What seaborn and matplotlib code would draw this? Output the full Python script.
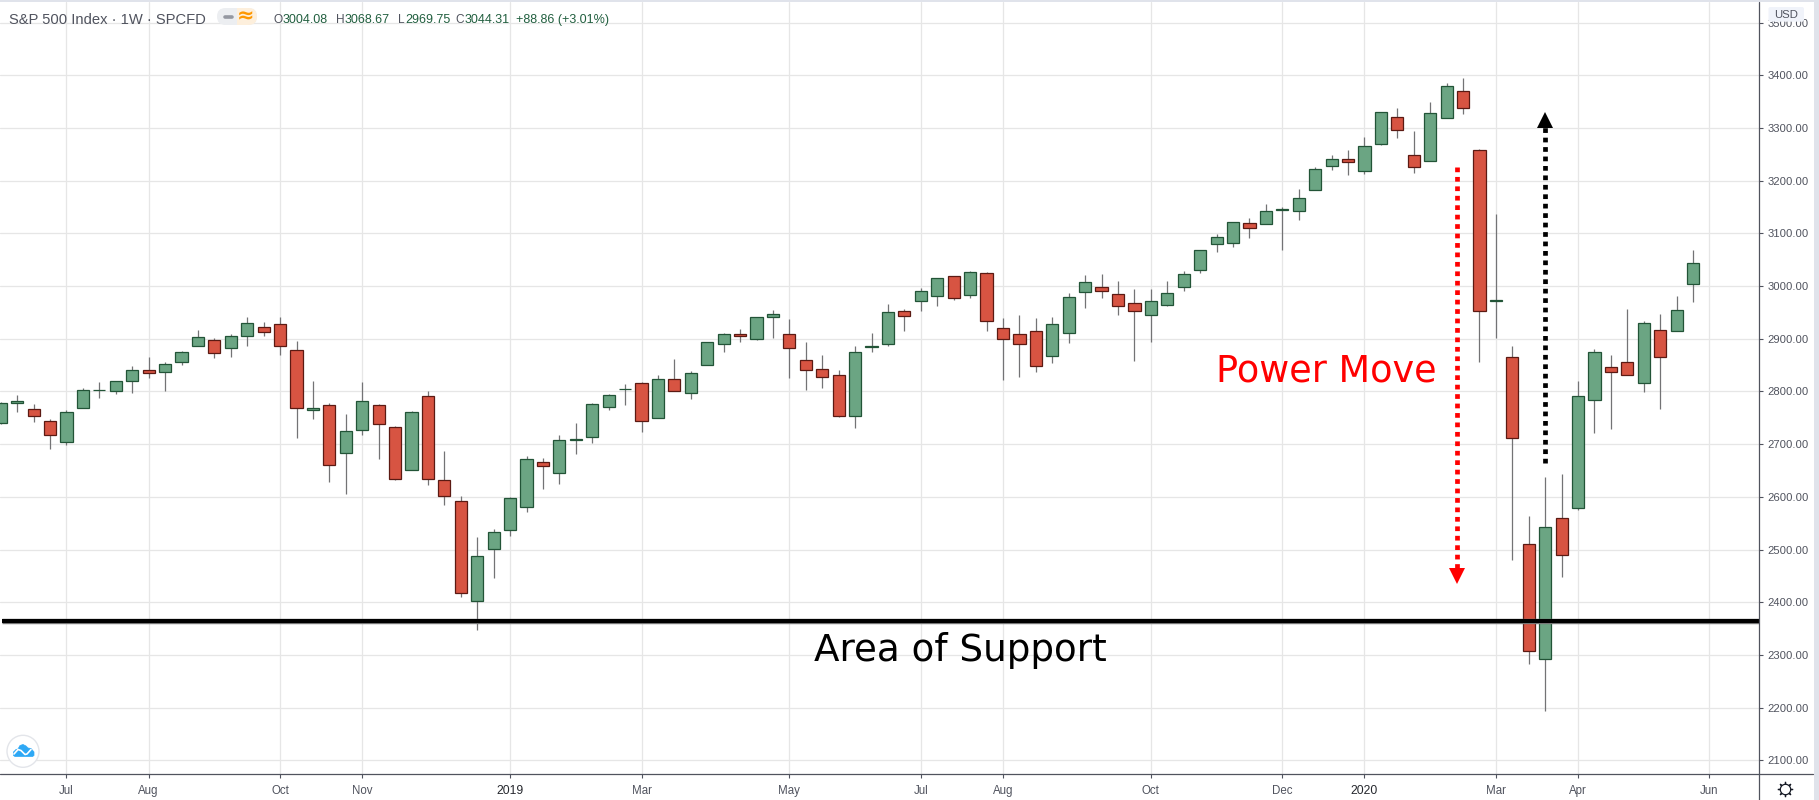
import numpy as np
import pandas as pd
import matplotlib
matplotlib.use("Agg")
import matplotlib.pyplot as plt
from matplotlib.patches import FancyBboxPatch, Circle, Polygon, Rectangle
import seaborn as sns

# weekly candles, week 0 is the first week of Jul 2018
weeks = list(range(-4, 100))
opens = [2741, 2779, 2766, 2743.5, 2705, 2769, 2802, 2800, 2819, 2840, 2836, 2855.5, 2885.5, 2897.5, 2881.5, 2904.5, 2921.5, 2927.5,
         2878.5, 2764, 2774, 2683, 2726, 2774, 2732, 2651, 2791, 2632, 2592, 2403, 2501, 2537, 2581, 2666, 2645, 2708, 2713,
         2770, 2804, 2816, 2750, 2824, 2797, 2850, 2889.5, 2909, 2899, 2941, 2909, 2860, 2843, 2831.5, 2753, 2885, 2889.5,
         2952.5, 2971, 2981, 3019, 2983, 3024, 2920, 2909, 2915, 2867, 2911, 2988, 2998, 2985, 2967.5, 2945, 2965, 2998,
         3031, 3080, 3082, 3119, 3117, 3143.5, 3142, 3183, 3227.5, 3240.5, 3217.5, 3270.5, 3321.5, 3248.5, 3236.5, 3318.5, 3369.5, 3257.5, 2971.5,
         2865, 2511, 2293, 2560, 2579, 2783, 2846.5, 2855.5, 2816, 2916, 2914.5, 3004.08]
highs = [2780, 2793, 2776, 2747, 2765, 2806, 2818, 2820.5, 2848, 2865, 2855, 2876, 2916, 2901, 2909.5, 2940.5, 2931.5, 2940.5,
         2896, 2820, 2779, 2757, 2818, 2776, 2735, 2763, 2801, 2687, 2602, 2523, 2539, 2600, 2678, 2673.5, 2717, 2740,
         2778, 2794.5, 2815, 2818, 2832, 2862, 2838, 2894, 2911.5, 2919, 2941, 2955, 2938, 2894.5, 2870, 2841.5, 2887, 2911,
         2966, 2957, 2996, 3015, 3019, 3029, 3027, 2940, 2945.5, 2940, 2942, 2986.5, 3020.5, 3022.5, 3010, 2994, 2994, 3010,
         3028, 3068, 3098, 3122, 3129, 3155.5, 3150.5, 3184, 3225.5, 3248.5, 3258.5, 3282.5, 3329.5, 3337.5, 3294.5, 3349.5, 3385, 3394.5,
         3260.5, 3137, 2885.5, 2564.5, 2637, 2644, 2820, 2880.5, 2869.5, 2956.5, 2933.5, 2947, 2981, 3068.67]
lows = [2739, 2761, 2742, 2691, 2699, 2769, 2788, 2796, 2797, 2826, 2801, 2851, 2885.5, 2864, 2866, 2885.5, 2904.5, 2870,
        2711, 2748.5, 2629, 2605, 2718, 2671, 2631, 2651, 2622, 2584, 2409, 2347, 2445, 2525, 2571, 2614, 2624, 2682, 2703,
        2764, 2775, 2723, 2750, 2800.5, 2785, 2850, 2874, 2893, 2897, 2901, 2825, 2802, 2806, 2751, 2730, 2874, 2887, 2914,
        2952, 2963, 2973, 2976.5, 2914, 2822, 2827, 2837, 2853.5, 2891, 2957.5, 2978, 2946, 2857, 2893, 2963, 2991.5, 3024,
        3065, 3075, 3092, 3117, 3069, 3125, 3183, 3220.5, 3211.5, 3212.5, 3268.5, 3281.5, 3215.5, 3236.5, 3318.5, 3327, 2856.5, 2901, 2480,
        2283, 2193, 2448, 2574.5, 2722, 2728, 2831, 2798.5, 2767.5, 2914.5, 2969.75]
closes = [2779, 2782, 2754, 2718, 2760.5, 2802, 2803, 2819, 2840.5, 2834.5, 2851.5, 2874.5, 2902.5, 2872.5, 2905, 2929.5, 2913.5, 2885.5,
          2768, 2768, 2660, 2725, 2781, 2738, 2634, 2760.5, 2634, 2602, 2418, 2488, 2534, 2598, 2672, 2658, 2708, 2710, 2776,
          2793, 2805, 2744, 2824, 2800.5, 2835, 2894, 2909, 2904.5, 2941, 2947, 2882.5, 2840, 2827, 2753, 2875, 2887, 2950.5,
          2942.5, 2990, 3015, 2976.5, 3026, 2933.5, 2899.5, 2889.5, 2848.5, 2928, 2979, 3007, 2991.5, 2962, 2952.5, 2971,
          2986.5, 3022.5, 3068, 3093, 3122, 3111, 3142, 3145.5, 3168, 3221.5, 3240.5, 3234.5, 3265.5, 3329.5, 3295.5, 3225.5, 3327.5, 3380.5,
          3337, 2953.5, 2973.5, 2711, 2307, 2543, 2490, 2791, 2874.5, 2836.5, 2831, 2929.5, 2865, 2955.5, 3044.31]

x_tick_weeks = [0, 5, 13, 18, 27, 35, 44, 52, 57, 66, 74, 79, 87, 92, 100]
x_tick_labels = ["Jul", "Aug", "Oct", "Nov", "2019", "Mar", "May", "Jul", "Aug", "Oct", "Dec", "2020", "Mar", "Apr", "Jun"]
price_ticks = [2100, 2200, 2300, 2400, 2500, 2600, 2700, 2800, 2900, 3000, 3100, 3200, 3300, 3400, 3500]

support_level = 2364
drop_week, drop_from, drop_to, drop_head = 84.63, 3226, 2465, 2449
rise_week, rise_from, rise_to, rise_head = 89.96, 2665, 3302, 3316

W, H = 1819, 800
UP, UP_EDGE = "#6ba583", "#225437"
DOWN, DOWN_EDGE = "#d75442", "#5b1a13"
WICK = "#737375"
AXIS = "#50535e"
FONT = "Liberation Sans"

sns.set_theme(style="whitegrid", rc={
    "grid.color": "#e6e6e6",
    "grid.linewidth": 0.9,
    "axes.edgecolor": AXIS,
})
plt.rcParams["font.family"] = [FONT, "DejaVu Sans"]

df = pd.DataFrame({"week": weeks, "open": opens, "high": highs, "low": lows, "close": closes})
df["bottom"] = df[["open", "close"]].min(axis=1)
df["body"] = (df["close"] - df["open"]).abs()

fig = plt.figure(figsize=(W / 100, H / 100), dpi=100, facecolor="white")
ax = fig.add_axes([0, 1 - 774.3 / H, 1758.6 / W, (774.3 - 2) / H])

ax.vlines(df["week"], df["low"], df["high"], color=WICK, linewidth=0.9, zorder=2)

# up and down candles go in separate calls because bottom has to line up with each subset
for sub, face, edge in [(df[df["close"] >= df["open"]], UP, UP_EDGE),
                        (df[df["close"] < df["open"]], DOWN, DOWN_EDGE)]:
    sns.barplot(data=sub, x="week", y="body", bottom=sub["bottom"].values, native_scale=True,
                width=0.74, color=face, saturation=1, edgecolor=edge, linewidth=0.9,
                errorbar=None, zorder=3, ax=ax)

ax.set_xlim(-4.047, 102.99)
ax.set_ylim(2073.4, 3539.1)
ax.set_xlabel("")
ax.set_ylabel("")
ax.set_axisbelow(True)

ax.set_xticks(x_tick_weeks)
ax.set_xticklabels(x_tick_labels)
ax.yaxis.tick_right()
ax.set_yticks(price_ticks)
ax.set_yticklabels([f"{p:.2f}" for p in price_ticks])
ax.tick_params(axis="x", length=2.6, width=0.8, color=AXIS, labelcolor=AXIS, labelsize=8.3, pad=5.2, bottom=True)
ax.tick_params(axis="y", length=3, width=0.8, color=AXIS, labelcolor=AXIS, labelsize=8.1, pad=3.6, right=True, left=False)
for lab in ax.get_xticklabels():
    if lab.get_text() in ("2019", "2020"):
        lab.set_color("#26282e")
        lab.set_fontsize(8.7)
for s in ax.spines.values():
    s.set_visible(False)
ax.grid(True, which="major", axis="both")

# support line with its soft edge
ax.hlines(support_level, -3.95, 102.99, color="#777777", linewidth=3.9, zorder=5)
ax.hlines(support_level, -3.95, 102.99, color="black", linewidth=2.9, zorder=6)

# dotted arrows
ax.plot([drop_week, drop_week], [drop_from, drop_to], color="#ff0000", linewidth=3.4,
        linestyle=(0, (1.0, 1.0)), zorder=6)
ax.plot([drop_week], [drop_head], marker="v", markersize=11, color="#ff0000", markeredgewidth=0, zorder=6)
ax.plot([rise_week, rise_week], [rise_from, rise_to], color="black", linewidth=3.4,
        linestyle=(0, (1.0, 1.0)), zorder=6)
ax.plot([rise_week], [rise_head], marker="^", markersize=11, color="black", markeredgewidth=0, zorder=6)

ax.text(69.94, 2818, "Power Move", color="#ff0000", fontsize=26.4, family="DejaVu Sans", va="baseline", zorder=7)
ax.text(45.5, 2289, "Area of Support", color="black", fontsize=26.8, family="DejaVu Sans", va="baseline", zorder=7)

# chart chrome on a pixel overlay
ov = fig.add_axes([0, 0, 1, 1], facecolor="none")
ov.set_xlim(0, W)
ov.set_ylim(H, 0)
ov.axis("off")
ov.grid(False)

ov.add_patch(Rectangle((1814, 0), 5, H, color="#e0e3eb", lw=0))
ov.add_patch(Rectangle((0, 0), W, 1.6, color="#e0e3eb", lw=0))
ov.plot([0, 1813], [774.3, 774.3], color=AXIS, lw=0.9)
ov.plot([1758.6, 1758.6], [2, H], color=AXIS, lw=0.9)

ov.text(9, 19.5, "S&P 500 Index · 1W · SPCFD", fontsize=10.6, color="#50535e", va="center", family=FONT)

# status pill
pill = FancyBboxPatch((217, 8), 40, 17, boxstyle="round,pad=0,rounding_size=8.5",
                      facecolor="#eceef1", edgecolor="none")
ov.add_patch(pill)
pill_right = Rectangle((236.7, 8), 21, 17, facecolor="#fdefdc", edgecolor="none")
ov.add_patch(pill_right)
pill_right.set_clip_path(pill)
ov.plot([224.5, 232], [16.7, 16.7], color="#9598a1", lw=2.6, solid_capstyle="round")
ov.text(246, 16, "≈", fontsize=15, color="#ff9800", ha="center", va="center", family="DejaVu Sans", fontweight="bold")

ohlc_labels = [(282.8, "O"), (344.8, "H"), (404.8, "L"), (464.3, "C")]
ohlc_values = [(283, "3004.08"), (345, "3068.67"), (405, "2969.75"), (464.5, "3044.31"), (515.5, "+88.86 (+3.01%)")]
for x, s in ohlc_labels:
    ov.text(x, 20, s, fontsize=8.6, color=AXIS, va="center", ha="right", family=FONT)
for x, s in ohlc_values:
    ov.text(x, 20, s, fontsize=9, color="#215f3f", va="center", family=FONT)

ov.add_patch(FancyBboxPatch((1768.5, 7), 35.5, 14.7, boxstyle="round,pad=0,rounding_size=2",
                            facecolor="#f0f3fa", edgecolor="none"))
ov.text(1786, 14.8, "USD", fontsize=8.2, color=AXIS, ha="center", va="center", family=FONT)

# logo bottom left
ov.add_patch(Circle((23, 751.3), 16, facecolor="white", edgecolor="#e3e5ea", lw=1))
ov.add_patch(Polygon([(13.5, 755.5), (13.5, 752), (16, 749.5), (18, 749), (20, 745.5), (23, 744.5), (26, 746), (28, 748),
                      (31, 748.5), (34, 752), (34, 755.5), (32.5, 756.5), (15, 756.5)],
                     closed=True, facecolor="#2ea8f5", edgecolor="#2ea8f5", lw=0.5, joinstyle="round"))
ov.plot([14, 18, 21, 25, 27, 31], [754, 749.5, 750.5, 754.5, 754, 749.5], color="white", lw=1.2)

# settings gear bottom right
ov.plot([1785], [789], marker=(8, 2, 0), markersize=11, color="#131722", markeredgewidth=0.9)
ov.plot([1785], [789], marker="o", markersize=7.5, markerfacecolor="white", markeredgecolor="#131722", markeredgewidth=0.9)

fig.savefig("out.png", dpi=100)
